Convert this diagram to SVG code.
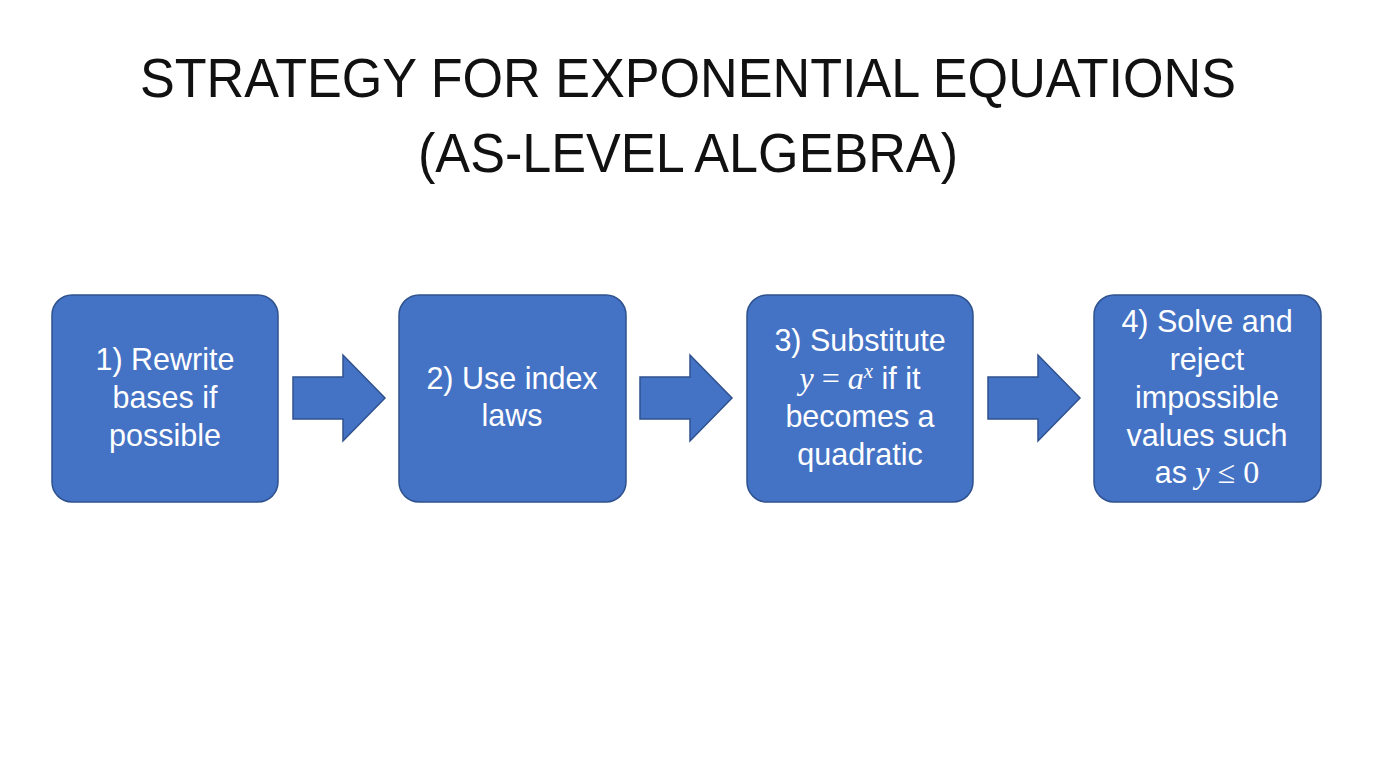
<svg xmlns="http://www.w3.org/2000/svg" width="1376" height="768" viewBox="0 0 1376 768">
<style>
.title{font-family:"Liberation Sans",Arial,sans-serif;font-size:55px;fill:#111;text-anchor:middle}
.box{fill:#4472C4;stroke:#2F528F;stroke-width:1.5}
.lbl{font-family:"Liberation Sans",Arial,sans-serif;font-size:30.5px;fill:#fff;text-anchor:middle}
.m{font-family:"Liberation Serif","Times New Roman",serif;font-style:italic;font-size:32px}
.mu{font-family:"Liberation Serif","Times New Roman",serif;font-size:32px}
.sup{font-family:"Liberation Serif","Times New Roman",serif;font-style:italic;font-size:21px}
.arr{fill:#4472C4;stroke:#2F528F;stroke-width:1.5}
</style>
<rect width="1376" height="768" fill="#fff"/>
<g id="title">
<text class="title" x="688" y="97" textLength="1096" lengthAdjust="spacingAndGlyphs">STRATEGY FOR EXPONENTIAL EQUATIONS</text>
<text class="title" x="688" y="172" textLength="540" lengthAdjust="spacingAndGlyphs">(AS-LEVEL ALGEBRA)</text>
</g>
<g id="node1">
<rect class="box" x="52" y="295" width="226" height="207" rx="20"/>
<text class="lbl" x="165" y="370">1) Rewrite</text>
<text class="lbl" x="165" y="408">bases if</text>
<text class="lbl" x="165" y="446">possible</text>
</g>
<g id="node2">
<rect class="box" x="399" y="295" width="227" height="207" rx="20"/>
<text class="lbl" x="512" y="389">2) Use index</text>
<text class="lbl" x="512" y="426">laws</text>
</g>
<g id="node3">
<rect class="box" x="747" y="295" width="226" height="207" rx="20"/>
<text class="lbl" x="860" y="351">3) Substitute</text>
<text class="lbl" x="860" y="389"><tspan class="m">y</tspan><tspan class="mu"> = </tspan><tspan class="m">a</tspan><tspan class="sup" dy="-11">x</tspan><tspan dy="11"> if it</tspan></text>
<text class="lbl" x="860" y="427">becomes a</text>
<text class="lbl" x="860" y="465">quadratic</text>
</g>
<g id="node4">
<rect class="box" x="1094" y="295" width="227" height="207" rx="20"/>
<text class="lbl" x="1207" y="332">4) Solve and</text>
<text class="lbl" x="1207" y="370">reject</text>
<text class="lbl" x="1207" y="408">impossible</text>
<text class="lbl" x="1207" y="446">values such</text>
<text class="lbl" x="1207" y="483">as <tspan class="m">y</tspan><tspan class="mu"> ≤ 0</tspan></text>
</g>
<g id="connectors">
<path class="arr" d="M293 377 H343 V355 L385 398 L343 441 V419 H293 Z"/>
<path class="arr" d="M640 377 H690 V355 L732 398 L690 441 V419 H640 Z"/>
<path class="arr" d="M988 377 H1038 V355 L1080 398 L1038 441 V419 H988 Z"/>
</g>
</svg>
